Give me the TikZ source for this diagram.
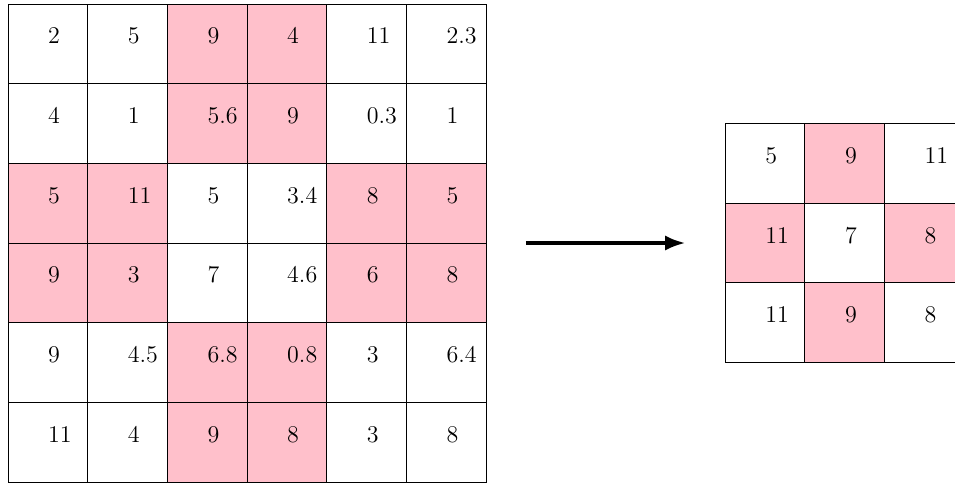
\documentclass[tikz,border=0pt]{standalone}
\usepackage{amsmath, amssymb}
\usepackage{tikz}
\usetikzlibrary{arrows.meta}
\definecolor{cellPink}{RGB}{255, 192, 203}

\begin{document}
\begin{tikzpicture}[every node/.style={font=\large}]
        \useasboundingbox (-0.14,0) rectangle (16.64,8.47);
        % 6x6 input grid (value/fill per cell, rows from the top)
        \foreach \vals [count=\row from 0] in {
            {2/white,5/white,9/cellPink,4/cellPink,11/white,2.3/white},
            {4/white,1/white,5.6/cellPink,9/cellPink,0.3/white,1/white},
            {5/cellPink,11/cellPink,5/white,3.4/white,8/cellPink,5/cellPink},
            {9/cellPink,3/cellPink,7/white,4.6/white,6/cellPink,8/cellPink},
            {9/white,4.5/white,6.8/cellPink,0.8/cellPink,3/white,6.4/white},
            {11/white,4/white,9/cellPink,8/cellPink,3/white,8/white}}
          \foreach \v/\c [count=\col from 0] in \vals {
            \filldraw[fill=\c] (\col*1.4, 8.4-\row*1.4) rectangle ++(1.4,-1.4);
            \node[anchor=base west, inner sep=0] (in-\row-\col)
              at (\col*1.4+0.7, 8.4-\row*1.4-0.7) {$\v$};
          }
        % arrow between the grids
        \coordinate (arr-from) at (9.1,4.2);
        \coordinate (arr-to) at (11.9,4.2);
        \draw[line width=1.6pt, -{Latex[length=10pt,width=7.5pt]}] (arr-from) -- (arr-to);
        % 3x3 output grid
        \foreach \vals [count=\row from 0] in {
            {5/white,9/cellPink,11/white},
            {11/cellPink,7/white,8/cellPink},
            {11/white,9/cellPink,8/white}}
          \foreach \v/\c [count=\col from 0] in \vals {
            \filldraw[fill=\c] (12.6+\col*1.4, 6.3-\row*1.4) rectangle ++(1.4,-1.4);
            \node[anchor=base west, inner sep=0] (out-\row-\col)
              at (12.6+\col*1.4+0.7, 6.3-\row*1.4-0.7) {$\v$};
          }
      \end{tikzpicture}
\end{document}
